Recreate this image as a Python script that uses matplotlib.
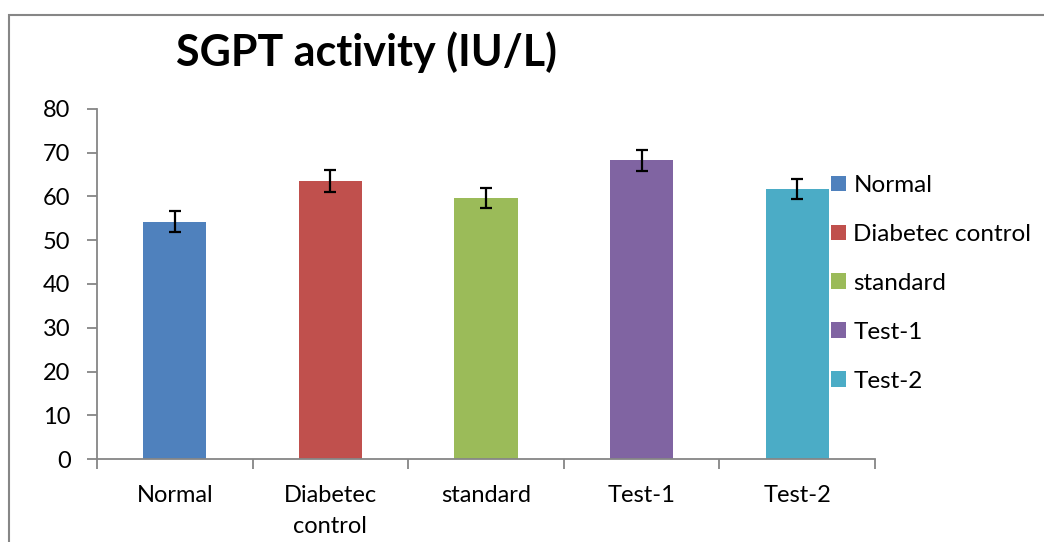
import matplotlib
matplotlib.use("Agg")
import matplotlib.pyplot as plt
from matplotlib.patches import Rectangle, Patch

plt.rcParams['font.family'] = ['Lato', 'DejaVu Sans']

# data
groups = ["Normal", "Diabetec control", "standard", "Test-1", "Test-2"]
tick_labels = ["Normal", "Diabetec\ncontrol", "standard", "Test-1", "Test-2"]
sgpt = [54.2, 63.5, 59.6, 68.3, 61.7]
sem = [2.4, 2.5, 2.3, 2.4, 2.3]
colors = ["#4F81BD", "#C0504D", "#9BBB59", "#8064A2", "#4BACC6"]

axis_gray = "#868686"

fig = plt.figure(figsize=(10.44, 5.42), dpi=100)
ax = fig.add_axes([97/1044, 1 - 459/542, (875 - 97)/1044, (459 - 109)/542])

x = [i + 0.5 for i in range(len(groups))]
ax.bar(x, sgpt, width=0.405, color=colors, zorder=2)
ax.errorbar(x, sgpt, yerr=sem, fmt="none", ecolor="black", elinewidth=1.6,
            capsize=4.5, capthick=1.6, zorder=3)

ax.set_xlim(0, len(groups))
ax.set_ylim(0, 80)
ax.set_yticks(range(0, 81, 10))

# category labels at centers, tick marks at boundaries
ax.set_xticks(x)
ax.set_xticklabels(tick_labels, fontsize=17, linespacing=1.55)
ax.tick_params(axis="x", which="major", length=0, pad=19)
ax.set_xticks(range(0, len(groups) + 1), minor=True)
ax.tick_params(axis="x", which="minor", length=7, width=1.3, color=axis_gray)
ax.tick_params(axis="y", length=7, width=1.3, color=axis_gray, labelsize=17, pad=12)

for side in ["top", "right"]:
    ax.spines[side].set_visible(False)
for side in ["left", "bottom"]:
    ax.spines[side].set_color(axis_gray)
    ax.spines[side].set_linewidth(1.3)

fig.text(366/1044, 1 - 52/542, "SGPT activity (IU/L)", fontsize=31,
         fontweight="bold", ha="center", va="center")

handles = [Patch(facecolor=c, edgecolor="none") for c in colors]
fig.legend(handles, groups, loc="upper left", bbox_to_anchor=(831/1044, 1 - 175/542),
           frameon=False, fontsize=17.5, handlelength=0.62, handleheight=0.62,
           handletextpad=0.3, labelspacing=1.15, borderaxespad=0, borderpad=0)

# chart area border
fig.patches.append(Rectangle((9/1044, -0.05), 1.1, 1 - 15/542 + 0.05,
                             transform=fig.transFigure, fill=False,
                             edgecolor=axis_gray, linewidth=1.5))

fig.savefig("out.png", dpi=100)
